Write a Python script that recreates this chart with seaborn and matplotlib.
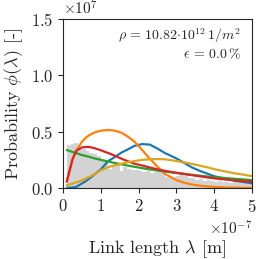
import numpy as np
import pandas as pd
import matplotlib
matplotlib.use('Agg')
import matplotlib.pyplot as plt
import seaborn as sns

sns.set_style('ticks')
plt.rcParams['font.family'] = 'serif'
plt.rcParams['font.serif'] = ['cmr10']
plt.rcParams['mathtext.fontset'] = 'cm'
plt.rcParams['axes.formatter.use_mathtext'] = True
plt.rcParams['axes.unicode_minus'] = True

# histogram of measured link lengths (bin left edges in 1e-7 m, density in 1e7)
bin_left = np.round(np.arange(0.1, 5.0, 0.1), 2)
hist_vals = [0.38, 0.39, 0.40, 0.36, 0.35, 0.33, 0.31, 0.30, 0.28, 0.25,
             0.24, 0.17, 0.20, 0.21, 0.15, 0.19, 0.17, 0.16, 0.16, 0.15,
             0.14, 0.15, 0.13, 0.14, 0.145, 0.14, 0.10, 0.09, 0.10, 0.11,
             0.145, 0.11, 0.09, 0.085, 0.07, 0.08, 0.06, 0.075, 0.065, 0.05,
             0.06, 0.055, 0.05, 0.045, 0.06, 0.05, 0.045, 0.05, 0.04]

# fitted distributions (lambda in 1e-7 m, phi in 1e7)
lam = [0.1, 0.25, 0.35, 0.5, 0.6, 0.7, 0.85, 1.0, 1.2, 1.35, 1.55, 1.7, 1.9,
       2.1, 2.3, 2.5, 2.7, 3.0, 3.2, 3.4, 3.6, 3.8, 4.0, 4.25, 4.5, 4.75, 5.0]
blue = [0.0, 0.005, 0.01, 0.04, 0.06, 0.085, 0.125, 0.165, 0.24, 0.27, 0.315,
        0.34, 0.375, 0.39, 0.385, 0.35, 0.31, 0.263, 0.225, 0.185, 0.155, 0.13,
        0.105, 0.085, 0.068, 0.055, 0.042]
orange = [0.056, 0.26, 0.33, 0.41, 0.445, 0.47, 0.495, 0.508, 0.515, 0.51, 0.49,
          0.46, 0.41, 0.335, 0.26, 0.19, 0.125, 0.071, 0.048, 0.032, 0.022,
          0.015, 0.01, 0.006, 0.004, 0.002, 0.001]
red = [0.056, 0.25, 0.33, 0.36, 0.364, 0.364, 0.352, 0.335, 0.31, 0.29, 0.26,
       0.24, 0.215, 0.2, 0.182, 0.166, 0.152, 0.136, 0.125, 0.115, 0.105,
       0.095, 0.086, 0.077, 0.069, 0.062, 0.056]
green = [0.337, 0.32, 0.31, 0.293, 0.285, 0.276, 0.262, 0.25, 0.235, 0.224,
         0.21, 0.2, 0.188, 0.176, 0.165, 0.155, 0.146, 0.133, 0.125, 0.117,
         0.11, 0.103, 0.097, 0.09, 0.083, 0.077, 0.07]
gold = [0.025, 0.04, 0.05, 0.068, 0.085, 0.1, 0.125, 0.157, 0.185, 0.2, 0.216,
        0.228, 0.24, 0.25, 0.255, 0.257, 0.255, 0.24, 0.228, 0.215, 0.2, 0.185,
        0.168, 0.15, 0.133, 0.12, 0.106]

hist_df = pd.DataFrame({'lam': (bin_left + 0.05) * 1e-7,
                        'phi': np.array(hist_vals) * 1e7})

curves = pd.DataFrame({'lam': np.array(lam) * 1e-7,
                       'blue': np.array(blue) * 1e7,
                       'orange': np.array(orange) * 1e7,
                       'green': np.array(green) * 1e7,
                       'red': np.array(red) * 1e7,
                       'gold': np.array(gold) * 1e7})
colors = {'blue': '#1f77b4', 'orange': '#ff7f0e', 'green': '#2ca02c',
          'red': '#d62728', 'gold': '#daa520'}

fig = plt.figure(figsize=(2.56, 2.59), dpi=100)
ax = fig.add_axes([0.246, 0.274, 0.738, 0.653])

sns.histplot(data=hist_df, x='lam', weights='phi', binwidth=1e-8,
             binrange=(1e-8, 5e-7), stat='count',
             color='#d3d3d3', alpha=1.0, edgecolor='none', linewidth=0, ax=ax)
for name in ['blue', 'orange', 'green', 'red', 'gold']:
    sns.lineplot(data=curves, x='lam', y=name, color=colors[name], lw=1.6, ax=ax)

ax.set_xlim(0, 5e-7)
ax.set_ylim(0, 1.5e7)
ax.set_xticks(np.arange(0, 6) * 1e-7)
ax.set_yticks(np.array([0, 0.5, 1.0, 1.5]) * 1e7)
ax.tick_params(labelsize=12, length=3.5, width=0.8)
ax.xaxis.get_offset_text().set_fontsize(11)
ax.yaxis.get_offset_text().set_fontsize(11)
for s in ax.spines.values():
    s.set_linewidth(0.8)

ax.set_xlabel(r'Link length $\lambda$ [m]', fontsize=13, labelpad=17)
ax.set_ylabel(r'Probability $\phi(\lambda)$ [-]', fontsize=13, labelpad=4)

ax.text(0.94, 0.955, r'$\rho\,=\,10.82{\cdot}10^{12}\,1/m^2$' + '\n' + r'$\epsilon\,=\,0.0\,\%$',
        transform=ax.transAxes, ha='right', va='top', fontsize=10,
        multialignment='right', linespacing=1.15)

fig.savefig('out.png', dpi=100)
